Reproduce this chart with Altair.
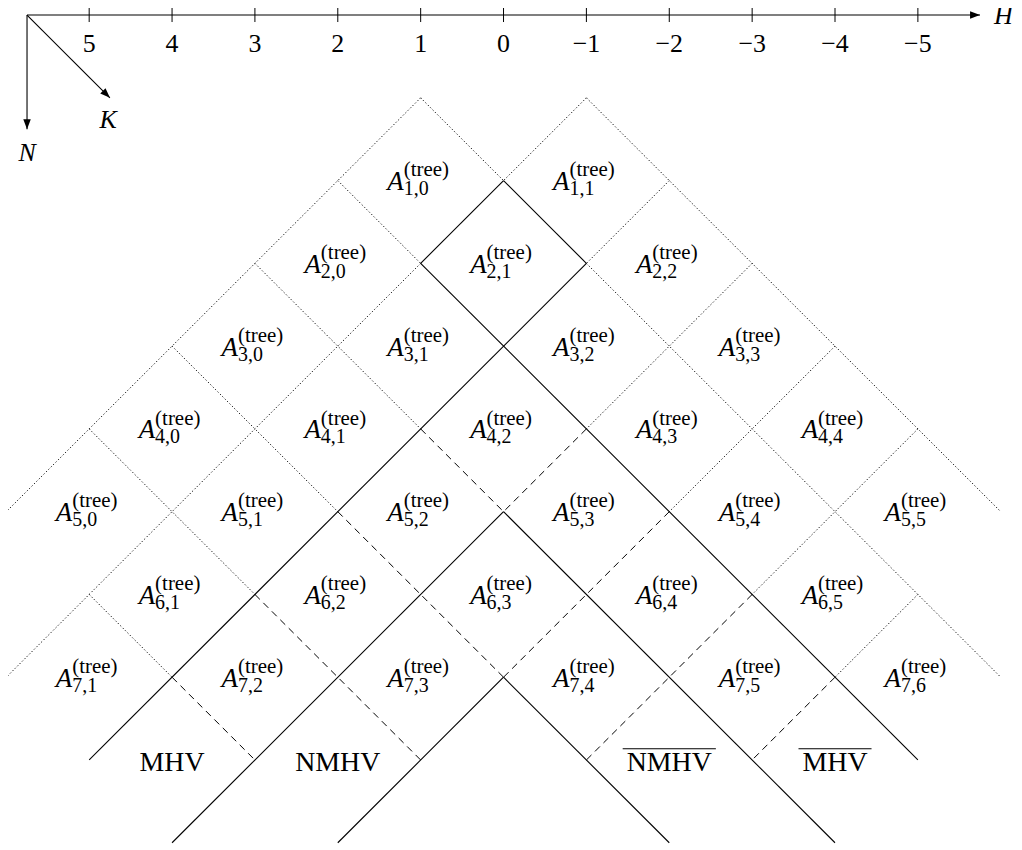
import altair as alt
import pandas as pd

# ---------------- data ----------------
# rows of the tree-amplitude grid: N and the K range present in that row
ROW_N = [1, 2, 3, 4, 5, 6, 7]
ROW_K_FIRST = [0, 0, 0, 0, 0, 1, 1]
ROW_K_LAST = [1, 2, 3, 4, 5, 5, 6]

# helicity axis
H_TICKS = [5, 4, 3, 2, 1, 0, -1, -2, -3, -4, -5]
H_TICK_LABELS = ["5", "4", "3", "2", "1", "0", "\u22121", "\u22122", "\u22123", "\u22124", "\u22125"]
AXIS_N = -1            # row of the H axis
AXIS_H_START = 5.75
AXIS_H_END = -5.75
AXIS_N_END = 0.38
AXIS_K_END_H = 4.75
AXIS_K_END_N = 0.0
AXIS_LABELS = ["H", "N", "K"]
AXIS_LABEL_H = [-6.03, 5.75, 4.77]
AXIS_LABEL_N = [-0.888, 0.764, 0.367]

# sector names below the grid
SECTOR_NAMES = ["MHV", "NMHV", "NMHV", "MHV"]
SECTOR_H = [4, 2, -2, -4]
SECTOR_BAR = [False, False, True, True]
SECTOR_N = 8

# grid edges: lines of constant K (running down-left) with a = N-K from..to;
# the mirror family (constant N-K, running down-right) is the same with a<->K
GRID_LINE = [-0.5, 0.5, 0.5, 0.5, 1.5, 1.5, 2.5, 2.5, 2.5, 3.5, 3.5, 3.5, 4.5, 4.5, 5.5, 5.5]
GRID_FROM = [0.5, -0.5, 0.5, 1.5, -0.5, 0.5, -0.5, 1.5, 2.5, -0.5, 1.5, 3.5, -0.5, 1.5, 0.5, 1.5]
GRID_TO = [5.5, 0.5, 1.5, 6.5, 0.5, 6.5, 1.5, 2.5, 6.5, 1.5, 3.5, 5.5, 1.5, 3.5, 1.5, 2.5]
GRID_STYLE = ["dotted", "dotted", "solid", "dotted", "dotted", "solid", "dotted", "dashed",
              "solid", "dotted", "dashed", "solid", "dotted", "dashed", "dotted", "dashed"]

# ---------------- layout ----------------
SERIF = "Liberation Serif"
PX_H, PX_N = 83.2, 83.1
ORIGIN_X, ORIGIN_Y = 505.5, 96.5
W, HT = 1010, 842
H_LEFT = (ORIGIN_X - 8) / PX_H
H_RIGHT = H_LEFT - W / PX_H
N_TOP = (8 - ORIGIN_Y) / PX_N
N_BOTTOM = N_TOP + HT / PX_N

xs = alt.Scale(domain=[H_RIGHT, H_LEFT], reverse=True, nice=False, zero=False)
ys = alt.Scale(domain=[N_TOP, N_BOTTOM], reverse=True, nice=False, zero=False)


def X(f):
    return alt.X(f"{f}:Q", scale=xs, axis=None)


def Y(f):
    return alt.Y(f"{f}:Q", scale=ys, axis=None)


# ---------------- tables ----------------
cells = []
for N, k0, k1 in zip(ROW_N, ROW_K_FIRST, ROW_K_LAST):
    for K in range(k0, k1 + 1):
        cells.append({"H": N - 2 * K, "n": N, "sub": f"{N},{K}"})
cells = pd.DataFrame(cells)

segs = []
for idx, s, e, st in zip(GRID_LINE, GRID_FROM, GRID_TO, GRID_STYLE):
    segs.append({"H1": s - idx, "n1": s + idx, "H2": e - idx, "n2": e + idx, "style": st})
    segs.append({"H1": idx - s, "n1": idx + s, "H2": idx - e, "n2": idx + e, "style": st})
segs = pd.DataFrame(segs)

STYLES = {
    "dotted": dict(strokeDash=[1.2, 2.2], strokeWidth=1.0),
    "dashed": dict(strokeDash=[7, 5], strokeWidth=1.0),
    "solid": dict(strokeWidth=1.1),
}

layers = []
for k, v in STYLES.items():
    layers.append(
        alt.Chart(segs[segs["style"] == k]).mark_rule(color="black", **v).encode(
            x=X("H1"), y=Y("n1"), x2="H2:Q", y2="n2:Q")
    )

# cell labels A^{(tree)}_{N,K}
cell_base = alt.Chart(cells).encode(x=X("H"), y=Y("n"))
layers.append(cell_base.mark_text(text="A", font=SERIF, fontStyle="italic", fontSize=27,
                                  align="right", baseline="alphabetic", dx=-17, dy=9.5, color="black"))
layers.append(cell_base.mark_text(text="(tree)", font=SERIF, fontSize=21,
                                  align="left", baseline="alphabetic", dx=-17, dy=-4.2, color="black"))
layers.append(cell_base.mark_text(font=SERIF, fontSize=20, align="left", baseline="alphabetic",
                                  dx=-17, dy=14.5, color="black").encode(text="sub:N"))

# H axis with ticks and labels
ticks = pd.DataFrame({"H": H_TICKS, "n": [AXIS_N] * len(H_TICKS), "label": H_TICK_LABELS})
layers.append(alt.Chart(ticks).mark_rule(color="black", strokeWidth=1, yOffset=-8, y2Offset=7).encode(
    x=X("H"), y=Y("n"), y2="n:Q"))
layers.append(alt.Chart(ticks).mark_text(font=SERIF, fontSize=26, align="center", baseline="alphabetic",
                                         dy=37.6, color="black").encode(x=X("H"), y=Y("n"), text="label:N"))

axes = pd.DataFrame({
    "H1": [AXIS_H_START] * 3, "n1": [AXIS_N] * 3,
    "H2": [AXIS_H_END, AXIS_H_START, AXIS_K_END_H],
    "n2": [AXIS_N, AXIS_N_END, AXIS_K_END_N],
})
layers.append(alt.Chart(axes).mark_rule(color="black", strokeWidth=1.1).encode(
    x=X("H1"), y=Y("n1"), x2="H2:Q", y2="n2:Q"))

ARROW = "M1,0L-1,-0.75L-1,0.75Z"
arrow_specs = [(0, -5, 0), (90, 0, -5), (45, -3.5, -3.5)]
for i, (ang, ox, oy) in enumerate(arrow_specs):
    layers.append(alt.Chart(axes.iloc[[i]]).mark_point(
        shape=ARROW, size=100, filled=True, color="black", opacity=1, strokeWidth=0,
        angle=ang, xOffset=ox, yOffset=oy).encode(x=X("H2"), y=Y("n2")))

axis_lab = pd.DataFrame({"label": AXIS_LABELS, "H": AXIS_LABEL_H, "n": AXIS_LABEL_N})
layers.append(alt.Chart(axis_lab).mark_text(font=SERIF, fontStyle="italic", fontSize=26, align="center",
                                            baseline="alphabetic", color="black").encode(
    x=X("H"), y=Y("n"), text="label:N"))

# sector labels
sectors = pd.DataFrame({"name": SECTOR_NAMES, "H": SECTOR_H, "n": [SECTOR_N] * 4, "bar": SECTOR_BAR})
layers.append(alt.Chart(sectors).mark_text(font=SERIF, fontSize=28, align="center", baseline="alphabetic",
                                           dy=11.4, color="black").encode(x=X("H"), y=Y("n"), text="name:N"))
WIDTH_EM = {"M": 0.889, "H": 0.722, "V": 0.722, "N": 0.722}
for i, row in sectors.iterrows():
    if row["bar"]:
        half = sum(WIDTH_EM[c] for c in row["name"]) * 28 / 2 + 4
        layers.append(alt.Chart(sectors.iloc[[i]]).mark_rule(
            color="black", strokeWidth=1.1, xOffset=-half, x2Offset=half, yOffset=-11.3, y2Offset=-11.3
        ).encode(x=X("H"), x2="H:Q", y=Y("n"), y2="n:Q"))

chart = alt.layer(*layers).properties(
    width=W, height=HT, autosize=alt.AutoSizeParams(type="none"), padding=0, background="white"
).configure_view(stroke=None)

chart.save("out.html", embed_options={"renderer": "svg", "actions": False})
